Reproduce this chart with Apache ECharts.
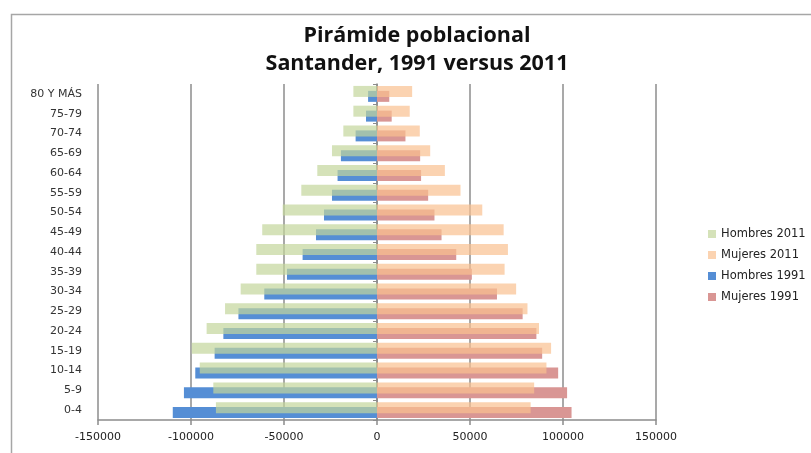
<!DOCTYPE html>
<html>
<head>
<meta charset="utf-8">
<script src="https://cdn.jsdelivr.net/npm/echarts@6/dist/echarts.min.js"></script>
<style>
  html, body { margin: 0; padding: 0; background: #fff; }
  #grafico { width: 811px; height: 453px; }
</style>
</head>
<body>
<div id="grafico"></div>
<script>
// grupos de edad, de abajo hacia arriba
var edades = ['0-4','5-9','10-14','15-19','20-24','25-29','30-34','35-39','40-44',
              '45-49','50-54','55-59','60-64','65-69','70-74','75-79','80 Y MÁS'];

var hombres2011 = [-86600,-88000,-95300,-99600,-91600,-81700,-73300,-64900,-64900,
                   -61700,-50700,-40700,-32100,-24200,-18100,-12700,-12700];
var mujeres2011 = [82600,84500,91100,93600,87100,80900,74800,68600,70400,
                   68100,56600,44900,36500,28600,23000,17600,18900];
var hombres1991 = [-109800,-103800,-97700,-87300,-82600,-74500,-60600,-48400,-40000,
                   -32800,-28500,-24200,-21200,-19400,-11500,-5900,-4800];
var mujeres1991 = [104600,102200,97400,88800,85700,78300,64500,51000,42600,
                   34700,30900,27500,23700,23200,15300,7900,6600];

var ticksX = [-150000, 150000, 50000]; // min, max, intervalo

var fuenteTitulo = 'Open Sans';
var fuente = 'DejaVu Sans';

var myChart = echarts.init(document.getElementById('grafico'));

function serie(nombre, datos, pila, color, z) {
    return {
        name: nombre,
        type: 'bar',
        stack: pila,
        data: datos,
        barWidth: 11,
        barGap: '-55%',
        z: z,
        itemStyle: { color: color },
        emphasis: { disabled: true }
    };
}

myChart.setOption({
    animation: false,
    title: {
        text: 'Pirámide poblacional\nSantander, 1991 versus 2011',
        left: 412,
        top: 17,
        textAlign: 'center',
        textStyle: {
            fontFamily: fuenteTitulo,
            fontSize: 21.5,
            fontWeight: 'bold',
            color: '#111',
            lineHeight: 28
        }
    },
    graphic: [{
        type: 'rect',
        left: 9, top: 12,
        shape: { width: 900, height: 500 },
        style: { fill: 'none', stroke: '#a6a6a6', lineWidth: 1.5 },
        silent: true
    }],
    legend: {
        orient: 'vertical',
        left: 703,
        top: 223,
        itemWidth: 8,
        itemHeight: 8,
        itemGap: 9,
        icon: 'rect',
        data: ['Hombres 2011', 'Mujeres 2011', 'Hombres 1991', 'Mujeres 1991'],
        textStyle: { fontFamily: fuente, fontSize: 11.5, color: '#222' }
    },
    grid: { left: 98, right: 155, top: 84, bottom: 33 },
    xAxis: {
        type: 'value',
        min: ticksX[0],
        max: ticksX[1],
        interval: ticksX[2],
        axisLine: { show: true, lineStyle: { color: '#8c8c8c', width: 1.5 } },
        axisTick: { show: true, length: 5, lineStyle: { color: '#8c8c8c', width: 1.5 } },
        splitLine: { show: true, lineStyle: { color: '#8c8c8c', width: 1.5 } },
        axisLabel: {
            fontFamily: fuente, fontSize: 11, color: '#222', margin: 12,
            formatter: function (v) { return String(v); }
        }
    },
    yAxis: [{
        type: 'category',
        data: edades,
        axisLine: { show: false },
        axisTick: { show: false },
        axisLabel: { fontFamily: fuente, fontSize: 11, color: '#333', margin: 16 }
    }, {
        type: 'category',
        data: edades,
        position: 'left',
        offset: -279,
        axisLine: { show: true, onZero: false, lineStyle: { color: '#8c8c8c', width: 1.5 } },
        axisTick: { show: true, length: 4, lineStyle: { color: '#8c8c8c' } },
        axisLabel: { show: false }
    }],
    // los nombres de pila no numericos conservan el orden: 2011 arriba, 1991 abajo
    series: [
        serie('Hombres 2011', hombres2011, 'p2011', 'rgba(195,214,155,0.7)', 3),
        serie('Mujeres 2011', mujeres2011, 'p2011', 'rgba(250,192,144,0.7)', 3),
        serie('Hombres 1991', hombres1991, 'p1991', '#558ed5', 2),
        serie('Mujeres 1991', mujeres1991, 'p1991', '#d99694', 2)
    ]
});
</script>
</body>
</html>
